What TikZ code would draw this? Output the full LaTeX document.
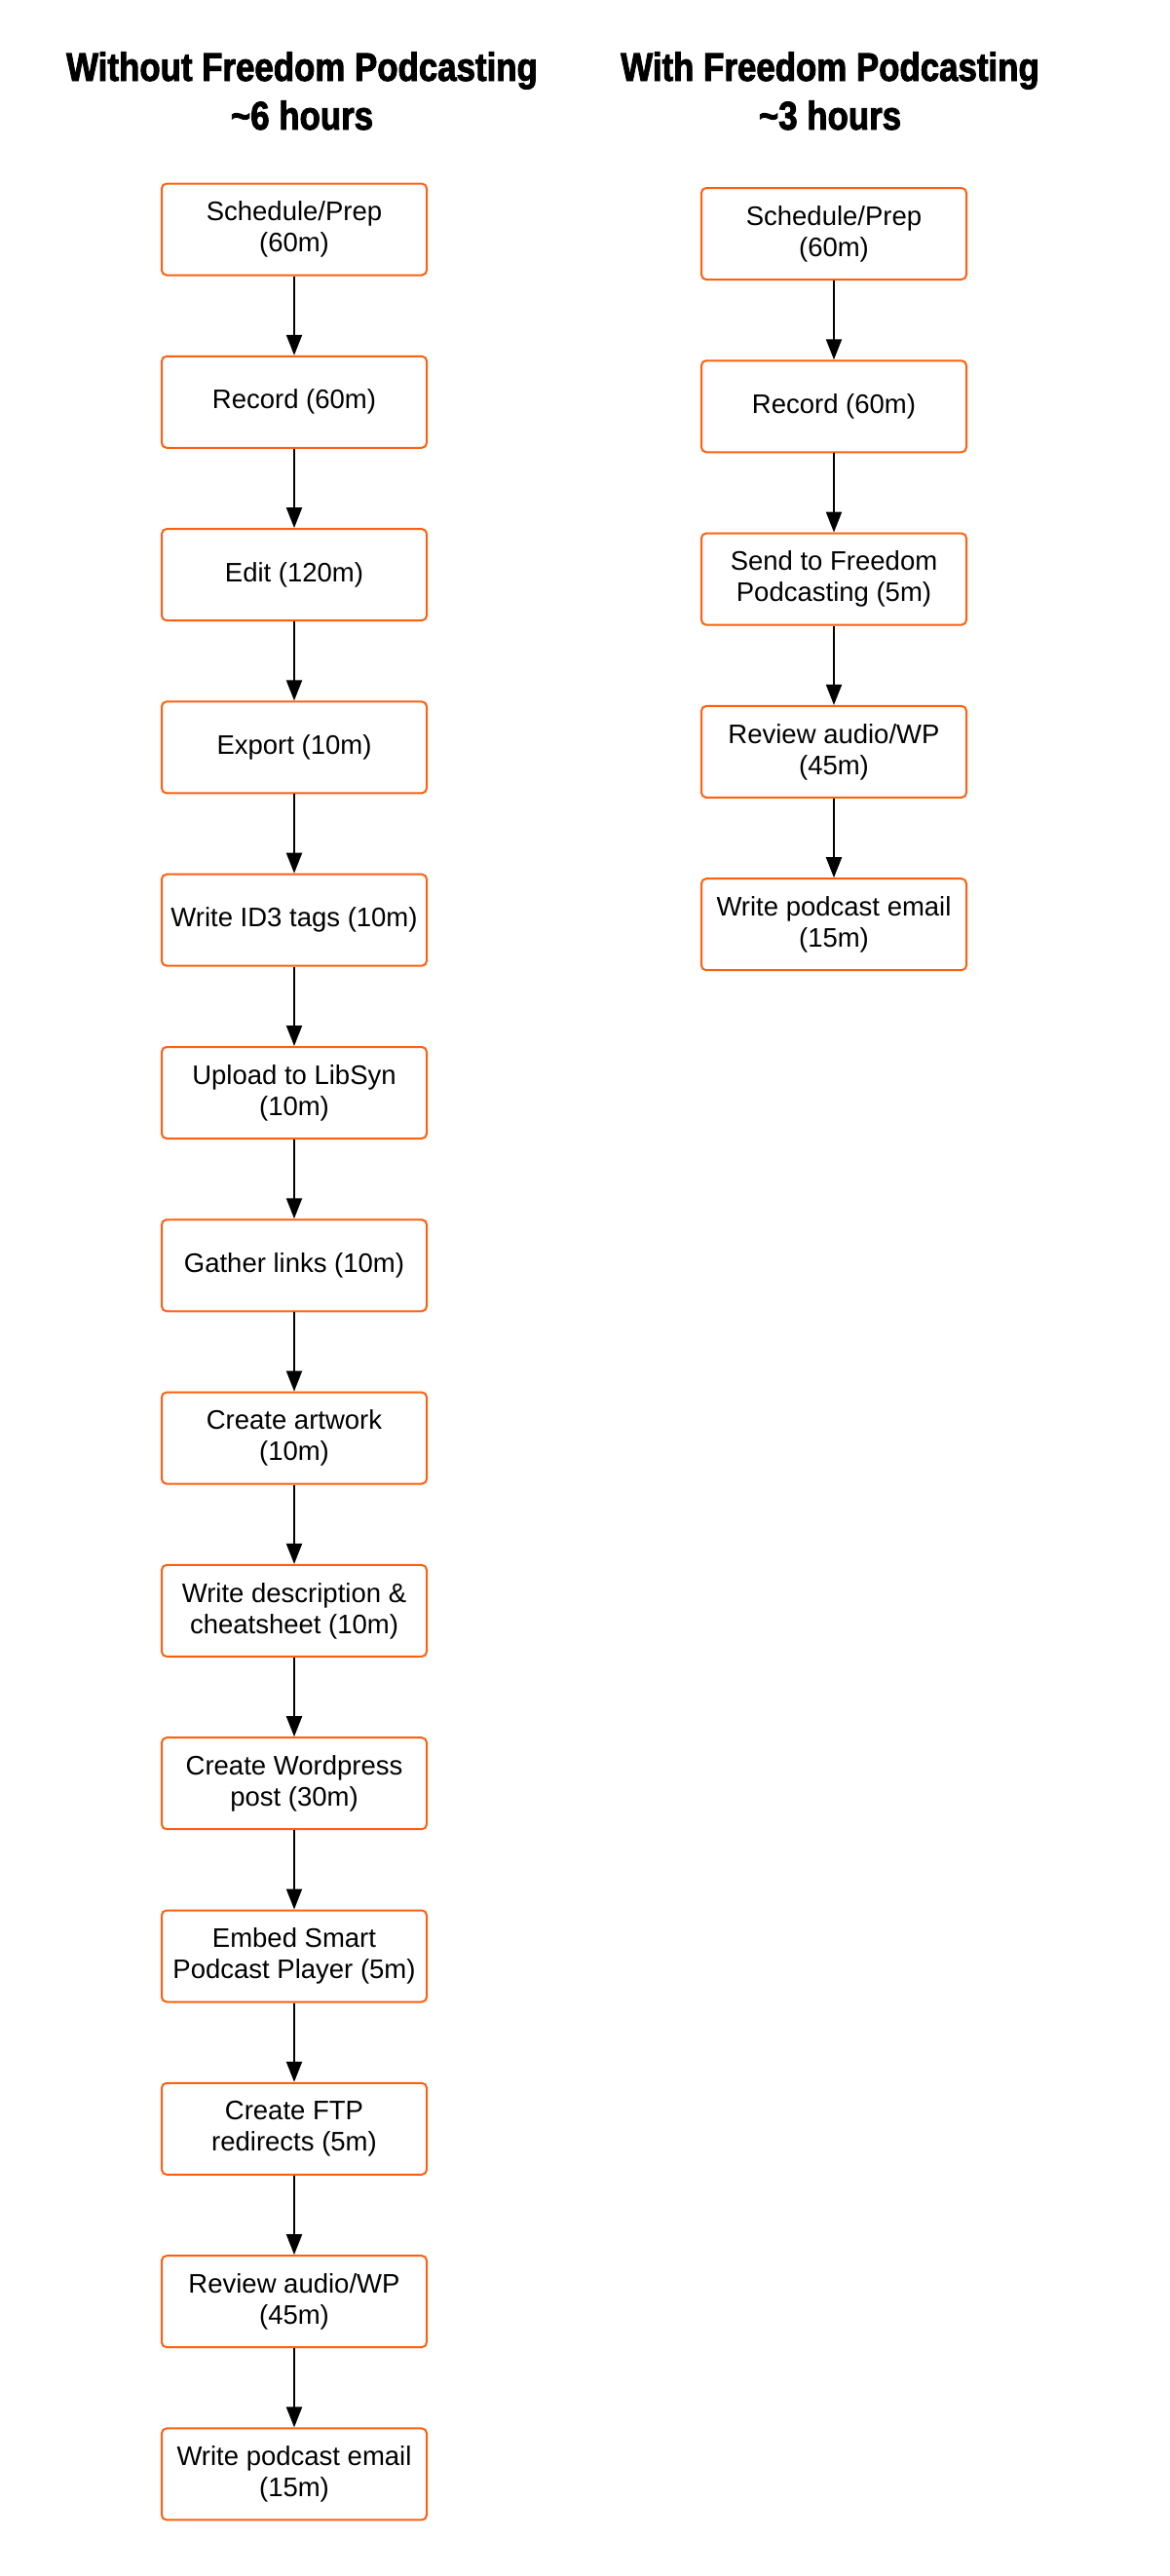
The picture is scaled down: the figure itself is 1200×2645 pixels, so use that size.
\documentclass[tikz,border=0pt]{standalone}
\usepackage{fontspec}
\setmainfont{Liberation Sans}
\newfontfamily\titlefont[FakeStretch=0.85,FakeBold=2.2]{Liberation Sans}
\usetikzlibrary{arrows.meta}
\definecolor{boxorange}{RGB}{255,95,15}
\tikzset{
  stepbox/.style={draw=boxorange, line width=2pt, rounded corners=5pt,
    minimum width=272pt, minimum height=94pt, align=center, inner sep=0pt,
    font=\fontsize{27.5}{32}\selectfont},
  flow/.style={line width=2pt, -{Triangle[length=21pt,width=16pt]}},
  ttl/.style={anchor=base, inner sep=0pt, font=\titlefont\bfseries\fontsize{41}{50}\selectfont}
}
\begin{document}
\begin{tikzpicture}[x=1pt,y=-1pt]
\useasboundingbox (0,0) rectangle (1200,2645);
\node[ttl] (t1a) at (310,83) {Without Freedom Podcasting};
\node[ttl] (t1b) at (310,133) {\textasciitilde6 hours};
\node[ttl] (t2a) at (852,83) {With Freedom Podcasting};
\node[ttl] (t2b) at (852,133) {\textasciitilde3 hours};

\foreach \i/\t in {1/{Schedule/Prep\\(60m)},2/{Record (60m)},3/{Edit (120m)},4/{Export (10m)},5/{Write ID3 tags (10m)},6/{Upload to LibSyn\\(10m)},7/{Gather links (10m)},8/{Create artwork\\(10m)},9/{Write description \&\\cheatsheet (10m)},10/{Create Wordpress\\post (30m)},11/{Embed Smart\\Podcast Player (5m)},12/{Create FTP\\redirects (5m)},13/{Review audio/WP\\(45m)},14/{Write podcast email\\(15m)}}
  \node[stepbox] (L\i) at (302,{235.5+(\i-1)*177.3}) {\t};
\foreach \i/\t in {1/{Schedule/Prep\\(60m)},2/{Record (60m)},3/{Send to Freedom\\Podcasting (5m)},4/{Review audio/WP\\(45m)},5/{Write podcast email\\(15m)}}
  \node[stepbox] (R\i) at (856,{240+(\i-1)*177.3}) {\t};

\foreach \i [evaluate=\i as \j using int(\i+1)] in {1,...,13}
  \draw[flow] (L\i.south) -- (L\j.north);
\foreach \i [evaluate=\i as \j using int(\i+1)] in {1,...,4}
  \draw[flow] (R\i.south) -- (R\j.north);
\end{tikzpicture}
\end{document}
